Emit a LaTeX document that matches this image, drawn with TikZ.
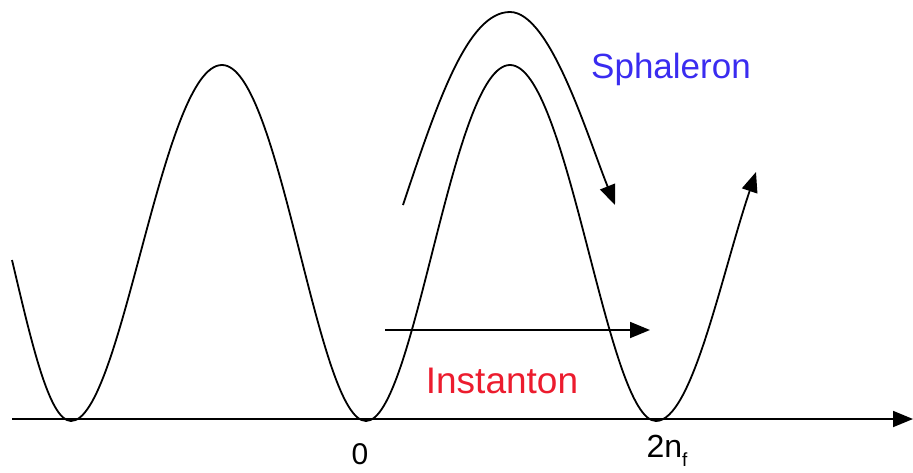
\documentclass[tikz,border=0pt]{standalone}
\usepackage{fontspec}
\setmainfont{Liberation Sans}
\usepackage{xcolor}
\usepackage{tikz}
\usetikzlibrary{arrows.meta}
\definecolor{sphblue}{RGB}{58,44,240}
\definecolor{instred}{RGB}{236,28,46}

\begin{document}
\begin{tikzpicture}[
  x=1pt, y=-1pt, line width=1.8pt,
  arr/.style={-{Triangle[length=20pt,width=16pt]}},
  lbl/.style={anchor=base, inner sep=0pt, font=\fontsize{35}{42}\selectfont},
  tick/.style={anchor=base, inner sep=0pt, font=\fontsize{30}{36}\selectfont}
]
  \useasboundingbox (0,0) rectangle (913,472);
  % points of the potential
  \coordinate (start) at (12,260);
  \coordinate (min1) at (71,421);
  \coordinate (max1) at (222,65);
  \coordinate (min2) at (366,421);
  \coordinate (max2) at (510,65);
  \coordinate (min3) at (656,421);
  \coordinate (tip) at (756,172);
  \coordinate (axl) at (12,419);
  \coordinate (axr) at (913,419);
  \coordinate (sphs) at (403,205);
  \coordinate (sphtop) at (510,12);
  \coordinate (sphe) at (615,205);
  \coordinate (insts) at (385,330);
  \coordinate (inste) at (650,330);

  \draw[arr] (axl) -- (axr);
  \draw[arr] (start) .. controls (31,340) and (49,421) .. (min1)
    .. controls +(51,0) and +(-60,0) .. (max1)
    .. controls +(58,0) and +(-49,0) .. (min2)
    .. controls +(49,0) and +(-58,0) .. (max2)
    .. controls +(58,0) and +(-49,0) .. (min3)
    .. controls +(36,0) and +(-35,104) .. (tip);
  \draw[arr] (sphs) .. controls +(35,-105) and +(-42,0) .. (sphtop)
    .. controls +(40,0) and +(-28,-70) .. (sphe);
  \draw[arr] (insts) -- (inste);

  \node[lbl, text=sphblue] (sphlbl) at (671,78) {Sphaleron};
  \node[lbl, text=instred, font=\fontsize{37}{44}\selectfont] (instlbl) at (502,393) {Instanton};
  \node[tick] (zero) at (360,464) {0};
  \node[tick, font=\fontsize{32}{38}\selectfont] (twonf) at (667,457)
    {2n\raisebox{-9pt}{\fontsize{19}{22}\selectfont f}};
\end{tikzpicture}
\end{document}
